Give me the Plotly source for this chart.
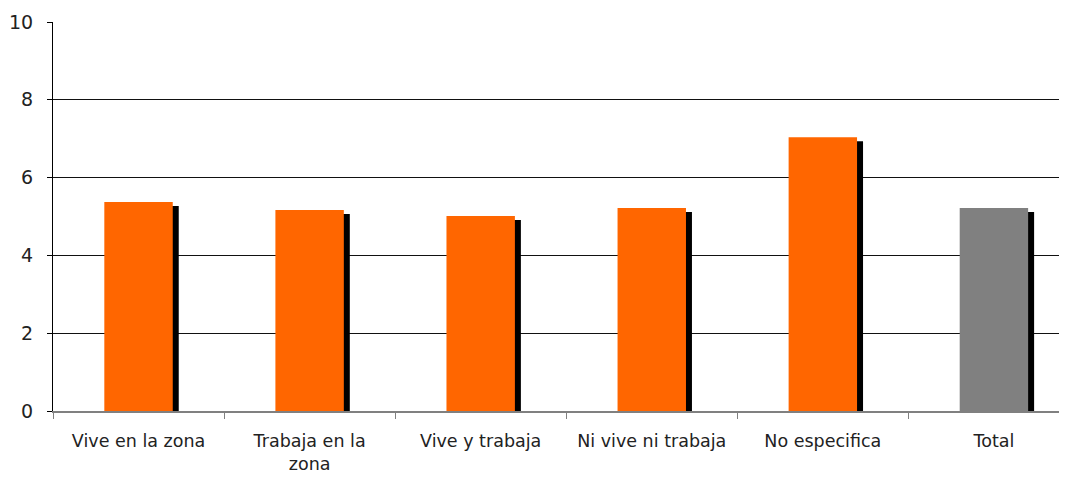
import plotly.graph_objects as go

categories = ["Vive en la zona", "Trabaja en la<br>zona", "Vive y trabaja",
              "Ni vive ni trabaja", "No especifica", "Total"]
values = [5.37, 5.17, 5.01, 5.22, 7.04, 5.22]
bar_colors = ["#FF6600", "#FF6600", "#FF6600", "#FF6600", "#FF6600", "#808080"]
y_ticks = [0, 2, 4, 6, 8, 10]

fig = go.Figure()

# shadow bars (drawn underneath, on a slightly shifted axis)
fig.add_trace(go.Bar(
    x=categories, y=values, width=0.4, offset=-0.165,
    marker=dict(color="#000000", line=dict(width=0)),
    yaxis="y", hoverinfo="skip", showlegend=False,
))
# main bars
fig.add_trace(go.Bar(
    x=categories, y=values, width=0.4, offset=-0.2,
    marker=dict(color=bar_colors, line=dict(width=0)),
    yaxis="y2", showlegend=False,
))

fig.update_layout(
    width=1067, height=477,
    margin=dict(l=45, r=0, t=14, b=74, autoexpand=False),
    paper_bgcolor="white", plot_bgcolor="white",
    barmode="overlay",
    font=dict(family="DejaVu Sans", color="#222222"),
    xaxis=dict(
        type="category",
        automargin=False,
        range=[-0.5, 5.474],
        showgrid=False,
        showline=True, linecolor="#808080", linewidth=2,
        ticks="outside", tickson="boundaries", ticklen=6, tickcolor="#808080", tickwidth=1,
        tickfont=dict(size=17.5, family="DejaVu Sans", color="#222222"),
        ticklabelstandoff=13,
        zeroline=False,
    ),
    yaxis=dict(
        range=[0.103, 10.103],
        automargin=False,
        visible=False, showgrid=False, zeroline=False,
    ),
    yaxis2=dict(
        overlaying="y", side="left",
        automargin=False,
        range=[0, 10],
        tickvals=y_ticks, ticktext=[str(v) for v in y_ticks],
        showgrid=True, gridcolor="#111111", gridwidth=1,
        showline=True, linecolor="#000000", linewidth=1,
        ticks="outside", ticklen=5, tickcolor="#000000",
        tickfont=dict(size=19, family="DejaVu Sans", color="#222222"),
        ticklabelstandoff=10,
        zeroline=False,
    ),
)

fig.write_html("out.html")
